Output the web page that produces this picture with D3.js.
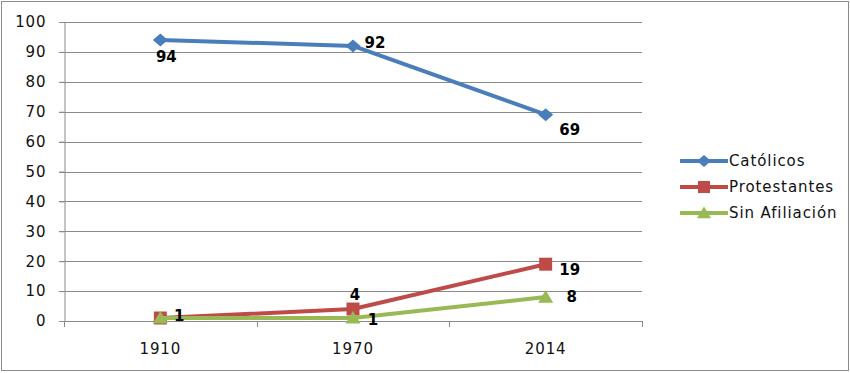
<!DOCTYPE html>
<html><head><meta charset="utf-8">
<script src="https://cdn.jsdelivr.net/npm/d3@7"></script>
<style>body{margin:0;background:#fff}svg{display:block}</style>
</head><body>
<script>
const categories = ["1910", "1970", "2014"];
const seriesNames = ["Católicos", "Protestantes", "Sin Afiliación"];
const catolicos = [94, 92, 69];
const protestantes = [1, 4, 19];
const sinAfiliacion = [1, 1, 8];
const yTicks = [0, 10, 20, 30, 40, 50, 60, 70, 80, 90, 100];
// which points show a data label, and where (dx, dy relative to point)
const labelShown = [[true, true, true], [true, true, true], [false, true, true]];
const labelOffsets = [
  [[6, 17], [22, -3], [24, 15]],
  [[19, -2], [2, -14], [24, 6]],
  [[0, 0], [20, 2], [26, 0]]
];
const colors = ["#4a7ebb", "#be4b48", "#98b954"];
const seriesValues = [catolicos, protestantes, sinAfiliacion];

// custom marker shapes (half-width, half-height)
const diamond = (w, h) => `M${-w},0L0,${-h}L${w},0L0,${h}Z`;
const square = (s) => `M${-s},${-s}H${s}V${s}H${-s}Z`;
const triangle = (w, h) => `M0,${-h}L${w},${h * 0.8}L${-w},${h * 0.8}Z`;
const markers = [diamond(7.5, 6.5), square(6.5), triangle(7.5, 7)];
const legendMarkers = [diamond(7, 6), square(6), triangle(7, 6.5)];

const W = 850, H = 373;
const svg = d3.select("body").append("svg").attr("width", W).attr("height", H);
svg.append("rect").attr("x", 1.5).attr("y", 1.5).attr("width", W - 3).attr("height", H - 4)
  .attr("fill", "#fff").attr("stroke", "#8c8c8c").attr("stroke-width", 1);

const pL = 64, pR = 642, pT = 22, pB = 321;
const x = d3.scaleBand().domain(categories).range([pL, pR]);
const y = d3.scaleLinear().domain([0, 100]).range([pB, pT]);
const font = "'DejaVu Sans', Verdana, sans-serif";

// gridlines
svg.append("g").selectAll("line").data(yTicks).join("line")
  .attr("x1", pL - 5).attr("x2", pR).attr("y1", d => Math.round(y(d)) + 0.5).attr("y2", d => Math.round(y(d)) + 0.5)
  .attr("stroke", "#8a8a8a").attr("stroke-width", 1);

// y axis
const yAxis = svg.append("g").attr("transform", `translate(${pL + 0.5},0)`)
  .call(d3.axisLeft(y).tickValues(yTicks).tickSize(5).tickPadding(13));
yAxis.select(".domain").attr("stroke", "#8a8a8a");
yAxis.selectAll(".tick line").attr("stroke", "#8a8a8a");
yAxis.selectAll("text").attr("font-family", font).attr("font-size", 15).attr("letter-spacing", "0.9px").attr("fill", "#111");

// x axis
const xAxis = svg.append("g").attr("transform", `translate(0,${pB + 0.5})`)
  .call(d3.axisBottom(x).tickSize(0).tickPadding(22));
xAxis.select(".domain").remove();
xAxis.selectAll("text").attr("font-family", font).attr("font-size", 15).attr("letter-spacing", "0.9px").attr("fill", "#111");
const bounds = [pL, ...categories.map(c => x(c) + x.bandwidth())];
svg.append("g").selectAll("line").data(bounds).join("line")
  .attr("x1", d => Math.round(d) + 0.5).attr("x2", d => Math.round(d) + 0.5)
  .attr("y1", pB).attr("y2", pB + 6).attr("stroke", "#8a8a8a");

const cx = c => x(c) + x.bandwidth() / 2;
const line = d3.line().x((d, i) => cx(categories[i])).y(d => y(d));

seriesValues.forEach((vals, s) => {
  const g = svg.append("g");
  g.append("path").datum(vals).attr("d", line).attr("fill", "none")
    .attr("stroke", colors[s]).attr("stroke-width", 4).attr("stroke-linejoin", "round");
  g.selectAll("path.m").data(vals).join("path").attr("class", "m")
    .attr("transform", (d, i) => `translate(${cx(categories[i])},${y(d)})`)
    .attr("d", markers[s])
    .attr("fill", colors[s]);
});
seriesValues.forEach((vals, s) => {
  svg.append("g").selectAll("text").data(vals.map((v, i) => ({ v, i })).filter(d => labelShown[s][d.i])).join("text")
    .attr("x", d => cx(categories[d.i]) + labelOffsets[s][d.i][0])
    .attr("y", d => y(d.v) + labelOffsets[s][d.i][1])
    .attr("dy", "0.35em").attr("text-anchor", "middle")
    .attr("font-family", font).attr("font-size", 15).attr("font-weight", "bold").attr("fill", "#000")
    .text(d => d.v);
});

// legend
const lg = svg.append("g");
seriesNames.forEach((name, s) => {
  const ly = 161 + s * 26;
  lg.append("line").attr("x1", 680).attr("x2", 728).attr("y1", ly).attr("y2", ly)
    .attr("stroke", colors[s]).attr("stroke-width", 4);
  lg.append("path").attr("transform", `translate(704,${ly})`)
    .attr("d", legendMarkers[s]).attr("fill", colors[s]);
  lg.append("text").attr("x", 729).attr("y", ly).attr("dy", "0.35em")
    .attr("font-family", font).attr("font-size", 15).attr("letter-spacing", "0.9px").attr("fill", "#111").text(name);
});
</script>
</body></html>
